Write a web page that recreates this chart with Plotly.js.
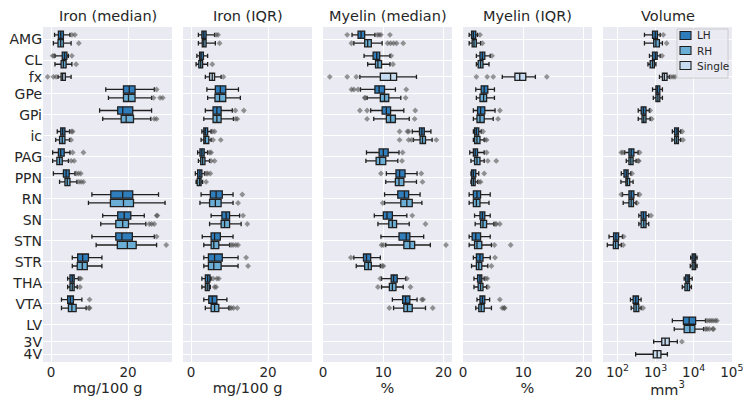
<!DOCTYPE html>
<html>
<head>
<meta charset="utf-8">
<script src="https://cdn.plot.ly/plotly-3.0.1.min.js"></script>
<style>html,body{margin:0;padding:0;background:#fff}#chart{width:743px;height:404px}</style>
</head>
<body>
<div id="chart"></div>
<script>
// ---------------- categories ----------------
const categories = ['AMG','CL','fx','GPe','GPi','ic','PAG','PPN','RN','SN','STN','STR','THA','VTA','LV','3V','4V'];
const pairedCats = ['AMG','CL','GPe','GPi','ic','PAG','PPN','RN','SN','STN','STR','THA','VTA','LV'];
const singleCats = ['fx','3V','4V'];
const hemiNames = ['LH','RH','Single'];
const panelTitles = ['Iron (median)','Iron (IQR)','Myelin (median)','Myelin (IQR)','Volume'];
const axisTitles = ['mg/100 g','mg/100 g','%','%','mm<sup>3</sup>'];
const volumeTickVals = [100, 1000, 10000, 100000];
const volumeTickText = ['10<sup>2</sup>','10<sup>3</sup>','10<sup>4</sup>','10<sup>5</sup>'];

// Each box: [lower whisker, Q1, median, Q3, upper whisker]; order follows pairedCats / singleCats

// ---- Iron (median), mg/100 g ----
const ironMedLH = [[0.9,1.9,2.5,3.2,4.9],[1.0,2.9,3.5,4.1,4.5],[14.2,18.8,20.3,21.8,26.8],[12.6,17.3,18.6,21.2,26.1],[1.6,2.5,3.0,3.6,4.8],[0.4,1.9,2.5,3.4,4.9],[0.6,3.2,3.9,4.7,6.2],[10.6,15.5,18.6,21.2,27.9],[13.4,17.3,19.0,20.7,24.2],[10.6,16.8,18.4,21.1,26.8],[5.5,6.9,8.2,9.7,13.2],[4.3,4.9,5.5,6.0,7.1],[2.7,4.3,5.0,5.8,8.0],null];
const ironMedLHOut = [[5.4,6.2],[0.4,0.8,5.4],[27.4],[],[5.3,5.6],[5.6,8.4],[6.5,7.1,7.7],[],[27.4,27.6],[27.4],[],[7.4,7.7],[10.0],[]];
const ironMedRH = [[0.6,1.8,2.5,3.2,5.2],[1.0,2.6,3.2,3.9,5.4],[14.9,18.8,20.1,21.8,26.1],[13.4,18.2,19.5,21.4,25.9],[1.2,2.2,2.9,3.6,4.8],[0.4,1.5,2.2,2.9,4.5],[2.2,3.6,4.2,4.9,6.7],[9.7,15.4,18.8,21.4,29.6],[12.9,16.8,18.6,20.1,24.6],[11.7,17.2,19.8,22.1,27.4],[5.5,6.8,8.1,9.4,13.2],[4.3,4.9,5.5,6.0,6.8],[2.7,4.5,5.4,6.5,9.1],null];
const ironMedRHOut = [[7.2],[6.5],[26.6,28.3,29.0],[26.8,27.4],[5.2],[5.2,6.0],[7.2,7.8,8.4],[],[25.5,26.1,26.8],[29.9],[],[7.5],[9.8,10.0],[]];
const ironMedSingle = [[1.8,2.6,3.0,3.7,5.2],null,null];
const ironMedSingleOut = [[-0.9,0.6,1.3],[],[]];

// ---- Iron (IQR), mg/100 g ----
const ironIqrLH = [[1.9,2.8,3.3,3.9,6.1],[1.5,2.2,2.6,3.2,4.3],[4.1,6.3,7.6,9.0,12.3],[3.7,5.7,6.7,7.8,10.7],[2.8,3.3,3.7,4.3,5.2],[1.7,2.3,2.8,3.4,4.3],[1.1,1.7,2.3,2.8,3.5],[2.6,5.0,6.5,8.1,10.9],[5.2,8.0,9.1,10.0,12.6],[2.9,5.2,6.1,7.6,10.9],[3.3,4.5,6.1,8.1,12.2],[2.8,3.7,4.3,4.9,5.2],[3.3,4.6,5.5,6.7,9.3],null];
const ironIqrLHOut = [[6.5,7.0],[],[],[11.5,13.7],[5.5,6.1],[4.8,5.2],[3.9,4.3,5.0],[13.3],[13.5],[],[14.3],[5.7,6.7,7.2],[],[]];
const ironIqrRH = [[1.9,2.9,3.3,3.9,6.3],[1.3,2.0,2.5,3.0,4.3],[4.3,6.2,7.4,9.0,12.8],[3.3,5.7,6.7,7.8,11.0],[2.6,3.3,3.7,4.6,5.2],[1.9,2.5,3.0,3.6,4.8],[1.3,1.6,2.2,2.6,3.0],[2.3,4.8,6.3,7.8,10.9],[4.8,7.8,8.7,10.0,13.0],[3.3,5.2,5.9,7.2,10.0],[3.3,4.5,5.9,7.8,12.2],[2.8,3.7,4.2,4.7,5.0],[3.7,5.2,6.1,7.2,9.8],null];
const ironIqrRHOut = [[7.4],[5.5],[],[11.6,12.0],[5.7,7.7],[5.2,6.1],[3.9],[12.2],[14.6],[10.4,10.9,11.6,12.2],[14.8],[6.1,6.5],[10.0,10.4,11.0,12.0],[]];
const ironIqrSingle = [[3.7,4.8,5.5,6.1,7.8],null,null];
const ironIqrSingleOut = [[8.4],[],[]];

// ---- Myelin (median), % ----
const myelinMedLH = [[4.8,5.8,6.3,6.9,8.6],[6.8,8.3,8.9,9.4,11.1],[6.2,8.6,9.3,10.2,12.0],[7.9,9.8,10.5,11.2,13.4],[14.8,16.0,16.4,16.8,17.9],[7.2,9.3,10.0,10.8,12.6],[10.5,12.1,12.7,13.6,15.6],[10.2,12.4,13.5,14.2,16.1],[8.5,10.0,10.6,11.5,13.9],[9.6,12.6,13.8,14.4,16.7],[5.1,6.7,7.2,7.9,9.5],[9.7,11.3,11.7,12.3,13.7],[11.5,13.2,13.7,14.4,15.6],null];
const myelinMedLHOut = [[4.0,9.0,9.3,9.6,11.1],[11.3],[4.7,5.1,5.8,13.8],[6.1,7.3,15.3],[12.7,14.0,14.2],[13.2],[9.6,16.3],[],[14.8],[],[4.6],[9.5,13.9],[16.4,16.6],[]];
const myelinMedRH = [[5.1,6.9,7.4,8.0,9.8],[7.4,8.7,9.1,9.7,11.1],[7.3,9.5,10.2,10.9,12.9],[8.4,10.5,11.2,12.0,14.3],[15.0,16.1,16.5,17.0,18.1],[7.1,8.8,9.4,10.4,12.4],[10.4,12.0,12.6,13.4,15.5],[10.2,12.9,13.9,14.8,16.4],[9.1,10.9,11.5,12.2,14.3],[10.4,13.4,14.4,15.2,17.8],[5.5,6.9,7.5,8.0,9.5],[9.7,11.0,11.5,12.1,13.3],[11.7,13.4,14.0,14.8,17.0],null];
const myelinMedRHOut = [[4.7,10.7,11.2,11.7,12.2,13.3],[11.6],[6.9,7.0,13.7],[7.3,15.2],[12.7,14.2,14.7,18.8],[13.1],[16.5],[9.9],[17.0],[9.7,10.0,20.4],[9.8,10.0],[9.1,14.5],[11.0,18.2],[]];
const myelinMedSingle = [[6.1,9.5,11.2,12.2,15.5],null,null];
const myelinMedSingleOut = [[1.1,4.0,5.5],[],[]];

// ---- Myelin (IQR), % ----
const myelinIqrLH = [[1.0,1.4,1.7,2.1,2.4],[2.2,2.8,3.2,3.6,4.5],[2.1,3.0,3.5,4.1,5.2],[1.7,2.4,2.9,3.6,5.3],[1.7,1.9,2.2,2.6,3.0],[1.1,1.7,2.0,2.4,3.5],[1.3,1.4,1.7,2.1,2.6],[1.0,1.7,2.3,2.9,4.5],[1.9,2.8,3.2,3.6,4.5],[1.0,1.5,2.1,2.9,4.5],[1.7,2.2,2.8,3.3,4.5],[1.8,2.4,2.8,3.1,3.5],[2.3,2.8,3.2,3.6,4.4],null];
const myelinIqrLHOut = [[2.8],[4.8],[],[6.1],[3.3],[3.9],[3.5],[],[],[],[5.3],[3.7,4.0],[6.1],[]];
const myelinIqrRH = [[1.0,1.5,1.8,2.2,2.9],[2.2,2.5,2.9,3.3,4.3],[2.2,2.8,3.4,3.9,5.2],[1.7,2.3,2.8,3.5,5.0],[1.7,1.9,2.3,2.8,3.5],[1.3,1.9,2.3,2.8,3.5],[1.3,1.4,1.7,2.0,2.4],[1.0,1.7,2.2,2.8,4.3],[2.0,2.9,3.3,3.9,5.1],[1.0,1.9,2.3,3.1,4.7],[1.4,2.2,2.6,3.1,4.1],[1.8,2.5,2.9,3.3,3.9],[2.1,2.6,3.0,3.5,4.7],null];
const myelinIqrRHOut = [[3.2],[],[],[5.8],[3.6,3.9],[4.1,5.5],[2.6,2.9],[],[5.3,5.5,6.1],[5.2,7.9],[4.7],[4.1],[6.5,6.8,6.9],[]];
const myelinIqrSingle = [[6.5,8.6,9.4,10.4,12.0],null,null];
const myelinIqrSingleOut = [[2.2,4.0,5.0,13.9],[],[]];

// ---- Volume, mm^3 ----
const volumeLH = [[510,830,980,1120,1320],[690,830,980,1100,1320],[830,1020,1120,1290,1510],[350,420,480,560,690],[2750,3160,3630,3980,4570],[155,200,229,269,347],[126,148,170,190,224],[135,200,229,269,347],[363,417,479,562,661],[60,79,91,107,135],[8320,9120,10230,11220,12300],[5620,6170,7080,7760,9120],[219,257,302,355,417],[2750,5370,7590,11220,20420]];
const volumeLHOut = [[1590],[1480],[],[720],[5010],[126,141,380],[240],[126,380],[759],[145],[],[],[],[22390,25700,28840,32360,37150,40740]];
const volumeRH = [[510,890,1020,1260,1510],[630,720,830,930,1020],[870,1020,1150,1290,1510],[350,440,490,560,720],[2690,3160,3550,3980,4570],[170,200,224,257,309],[123,166,182,209,257],[141,200,229,263,309],[363,417,490,562,661],[54,78,89,105,126],[8130,9120,10230,11220,12300],[5010,5890,6760,7760,8710],[229,269,309,363,417],[3090,5620,7940,10720,18200]];
const volumeRHOut = [[1950],[],[],[790],[5250],[347,363],[],[324],[],[141],[],[],[468],[20420,22390,25700,31620,33110]];
const volumeSingle = [[1260,1510,1700,2000,2290],[890,1450,1780,2290,3720],[300,870,1100,1380,2040]];
const volumeSingleOut = [[2510,2880,3240],[4900],[]];

// ---------------- layout helpers ----------------
const colors = {LH:'#2f7dbb', RH:'#6aaed6', Single:'#c6dbef'};
const edge = '#1f1f1f';
const textColor = '#262626';
const font = 'DejaVu Sans, Liberation Sans, sans-serif';

// slot positions: paired categories take two box slots, single ones take one; 1.5 between groups
const pos = {};
let p = 0;
categories.forEach(c => {
  if (singleCats.includes(c)) { pos[c] = {Single: p, center: p}; p += 1.5; }
  else { pos[c] = {LH: p, RH: p + 1, center: p + 0.5}; p += 2.5; }
});
const yRange = [pos['4V'].center + 0.92, -0.93];

const panels = [
  {LH: ironMedLH, LHo: ironMedLHOut, RH: ironMedRH, RHo: ironMedRHOut, S: ironMedSingle, So: ironMedSingleOut},
  {LH: ironIqrLH, LHo: ironIqrLHOut, RH: ironIqrRH, RHo: ironIqrRHOut, S: ironIqrSingle, So: ironIqrSingleOut},
  {LH: myelinMedLH, LHo: myelinMedLHOut, RH: myelinMedRH, RHo: myelinMedRHOut, S: myelinMedSingle, So: myelinMedSingleOut},
  {LH: myelinIqrLH, LHo: myelinIqrLHOut, RH: myelinIqrRH, RHo: myelinIqrRHOut, S: myelinIqrSingle, So: myelinIqrSingleOut},
  {LH: volumeLH, LHo: volumeLHOut, RH: volumeRH, RHo: volumeRHOut, S: volumeSingle, So: volumeSingleOut}
];

const traces = [];
function addBoxes(stats, outs, cats, hemi, k) {
  const xa = k === 0 ? 'x' : 'x' + (k + 1);
  const ya = k === 0 ? 'y' : 'y' + (k + 1);
  const idx = [];
  stats.forEach((s, i) => { if (s) idx.push(i); });
  traces.push({
    type: 'box', orientation: 'h', name: hemi, showlegend: false,
    y: idx.map(i => pos[cats[i]][hemi]),
    lowerfence: idx.map(i => stats[i][0]),
    q1: idx.map(i => stats[i][1]),
    median: idx.map(i => stats[i][2]),
    q3: idx.map(i => stats[i][3]),
    upperfence: idx.map(i => stats[i][4]),
    width: 0.86, whiskerwidth: 0.6,
    fillcolor: colors[hemi], line: {color: edge, width: 1.3},
    boxpoints: false, hoverinfo: 'skip',
    xaxis: xa, yaxis: ya
  });
  const ox = [], oy = [];
  outs.forEach((arr, i) => { if (stats[i]) arr.forEach(v => { ox.push(v); oy.push(pos[cats[i]][hemi]); }); });
  traces.push({
    type: 'scatter', mode: 'markers', x: ox, y: oy, showlegend: false, hoverinfo: 'skip',
    marker: {symbol: 'diamond', size: 4.5, color: 'rgba(70,70,70,0.55)', line: {width: 0}},
    xaxis: xa, yaxis: ya
  });
}
panels.forEach((pn, k) => {
  addBoxes(pn.LH, pn.LHo, pairedCats, 'LH', k);
  addBoxes(pn.RH, pn.RHo, pairedCats, 'RH', k);
  addBoxes(pn.S, pn.So, singleCats, 'Single', k);
});

// domains from pixel layout
const plotL = 43, plotR = 732, plotT = 27, plotB = 362, W = plotR - plotL, H = plotB - plotT;
const pxDomains = [[43,172],[183,312],[323,452],[463,592],[603,732]];
const domains = pxDomains.map(d => [(d[0]-plotL)/W, (d[1]-plotL)/W]);
const xRanges = [[-2.1,31.4],[-2.1,31.4],[-0.02,21.4],[-0.02,21.4],[1.62,5.005]];
const px2x = v => (v - plotL) / W;
const px2y = v => (plotB - v) / H;

const layout = {
  width: 743, height: 404,
  margin: {l: plotL, r: 743 - plotR, t: plotT, b: 404 - plotB},
  paper_bgcolor: '#ffffff', plot_bgcolor: '#eaeaf2',
  font: {family: font, color: textColor, size: 13},
  boxmode: 'overlay',
  showlegend: false,
  annotations: [],
  shapes: []
};
for (let k = 0; k < 5; k++) {
  const xk = k === 0 ? 'xaxis' : 'xaxis' + (k + 1);
  const yk = k === 0 ? 'yaxis' : 'yaxis' + (k + 1);
  const xa = {
    domain: domains[k], anchor: k === 0 ? 'y' : 'y' + (k + 1),
    range: xRanges[k], showgrid: true, gridcolor: '#ffffff', gridwidth: 1,
    zeroline: false, showline: false, ticks: '', ticklabeloverflow: 'allow',
    tickfont: {size: 13.5, color: textColor},
    title: {text: axisTitles[k], font: {size: 14.5, color: textColor}, standoff: 4}
  };
  if (k < 4) { xa.tickvals = k < 2 ? [0, 20] : [0, 10, 20]; }
  else { xa.type = 'log'; xa.tickvals = volumeTickVals; xa.ticktext = volumeTickText; }
  layout[xk] = xa;
  layout[yk] = {
    domain: [0, 1], anchor: k === 0 ? 'x' : 'x' + (k + 1),
    range: yRange, tickvals: categories.map(c => pos[c].center), ticktext: categories,
    showticklabels: k === 0, showgrid: true, gridcolor: '#ffffff', gridwidth: 1,
    zeroline: false, showline: false, ticks: '', tickfont: {size: 14, color: textColor}
  };
  layout.annotations.push({
    text: panelTitles[k], xref: 'paper', yref: 'paper',
    x: (domains[k][0] + domains[k][1]) / 2, y: 1, xanchor: 'center', yanchor: 'bottom',
    yshift: 1, showarrow: false, font: {size: 14.5, color: textColor}
  });
}

// legend (drawn as a frame with colour patches and labels, inside the Volume panel)
layout.shapes.push({type: 'rect', xref: 'paper', yref: 'paper', layer: 'above',
  x0: px2x(677), x1: px2x(728), y0: px2y(78), y1: px2y(29),
  fillcolor: 'rgba(234,234,242,0.8)', line: {color: '#cccccc', width: 1}});
hemiNames.forEach((h, i) => {
  const cy = 35.5 + i * 15;
  layout.shapes.push({type: 'rect', xref: 'paper', yref: 'paper', layer: 'above',
    x0: px2x(680), x1: px2x(691), y0: px2y(cy + 4), y1: px2y(cy - 4),
    fillcolor: colors[h], line: {color: edge, width: 1.1}});
  layout.annotations.push({text: h, xref: 'paper', yref: 'paper', x: px2x(695), y: px2y(cy),
    xanchor: 'left', yanchor: 'middle', showarrow: false, font: {size: 10.5, color: textColor}});
});

Plotly.newPlot('chart', traces, layout, {displayModeBar: false, staticPlot: true});
</script>
</body>
</html>
